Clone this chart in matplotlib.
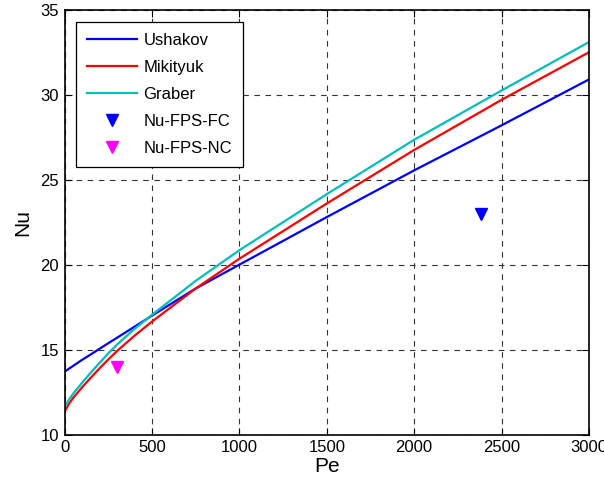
import numpy as np
from matplotlib import pyplot as plt

pe = [0, 25, 50, 100, 150, 200, 250, 300, 400, 500, 750, 1000, 1500, 2000, 2500, 3000]

nu_ushakov = [13.7, 13.88, 14.05, 14.4, 14.72, 15.05, 15.38, 15.7, 16.35, 17.0, 18.6, 20.0, 22.8, 25.55, 28.2, 30.9]
nu_mikityuk = [11.35, 11.8, 12.17, 12.78, 13.35, 13.9, 14.42, 14.92, 15.82, 16.65, 18.6, 20.35, 23.6, 26.75, 29.7, 32.5]
nu_graber = [11.6, 12.05, 12.42, 13.05, 13.65, 14.22, 14.78, 15.3, 16.22, 17.05, 19.05, 20.85, 24.15, 27.35, 30.25, 33.1]

# measured points
pe_fc = [2380]
nu_fc = [23.0]
pe_nc = [300]
nu_nc = [14.0]

xticks = [0, 500, 1000, 1500, 2000, 2500, 3000]
yticks = [10, 15, 20, 25, 30, 35]


def main():
    plt.rcParams['font.family'] = ['Liberation Sans', 'DejaVu Sans']

    fig = plt.figure(figsize=(6.04, 4.91), dpi=100)
    ax = fig.add_axes([0.1068, 0.1147, 0.8684, 0.8655])

    ax.plot(pe, nu_ushakov, '-', color='#0000ff', lw=1.6, label='Ushakov')
    ax.plot(pe, nu_mikityuk, '-', color='#ff0000', lw=1.6, label='Mikityuk')
    ax.plot(pe, nu_graber, '-', color='#00bfbf', lw=1.6, label='Graber')
    ax.plot(pe_fc, nu_fc, 'v', color='#0000ff', ms=9, ls='none', label='Nu-FPS-FC')
    ax.plot(pe_nc, nu_nc, 'v', color='#ff00ff', ms=9, ls='none', label='Nu-FPS-NC')

    ax.set_xlim(0, 3000)
    ax.set_ylim(10, 35)
    ax.set_xticks(xticks)
    ax.set_yticks(yticks)
    ax.tick_params(direction='in', top=True, right=True, length=5, labelsize=12, pad=4)
    ax.grid(True, color='#333333', linestyle=(0, (5, 5)), linewidth=0.8)
    for s in ax.spines.values():
        s.set_linewidth(1.2)

    ax.set_xlabel('Pe', fontsize=15, labelpad=1)
    ax.set_ylabel('Nu', fontsize=15, labelpad=6)

    leg = ax.legend(loc='upper left', bbox_to_anchor=(0.022, 0.971), borderaxespad=0,
                    fontsize=12, fancybox=False, framealpha=1, edgecolor='black',
                    handlelength=3.0, handletextpad=0.4, labelspacing=0.72,
                    borderpad=0.65)
    leg.get_frame().set_linewidth(0.9)

    fig.savefig('out.png', dpi=100)


if __name__ == '__main__':
    main()
